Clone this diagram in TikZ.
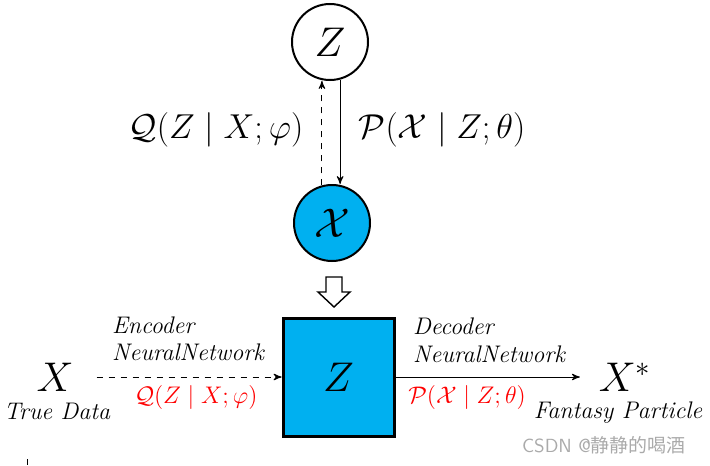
\documentclass[tikz,border=0pt]{standalone}
\usepackage{amsmath}
\usepackage{amssymb}
\usepackage{fontspec}
\newfontfamily\cjk{Noto Sans CJK SC}
\usetikzlibrary{arrows,positioning}

\definecolor{vaeblue}{RGB}{0,176,240}
\definecolor{markgray}{RGB}{170,170,170}

\begin{document}
\begin{tikzpicture}[x=0.5pt,y=-0.5pt,>=stealth',
        latent/.style={circle,draw,line width=1pt,minimum size=38pt,inner sep=0pt,font=\huge},
        codebox/.style={draw,line width=1.5pt,fill=vaeblue,minimum width=55.5pt,minimum height=59pt,font=\huge},
        hand/.style={font=\large\itshape},
        flow/.style={->,line width=0.5pt}]

  \useasboundingbox (0,0) rectangle (710,465);

  % top: graphical model
  \node[latent] (z) at (330,42) {$Z$};
  \node[latent,fill=vaeblue] (x) at (332,223) {$\mathcal{X}$};

  \path (x.105) edge[flow,dashed] (x.105 |- z.south)
        (z.-75) edge[flow] (z.-75 |- x.north);

  \node[font=\LARGE] (qtop) at (216,130) {$\mathcal{Q}(Z\mid X;\varphi)$};
  \node[font=\LARGE] (ptop) at (442,130) {$\mathcal{P}(\mathcal{X}\mid Z;\theta)$};

  % hollow arrow
  \draw[fill=white,line width=0.7pt] (326,277) -- (342,277) -- (342,292) -- (350,292)
        -- (334,307) -- (318,292) -- (326,292) -- cycle;

  % bottom: encoder / decoder
  \node[codebox] (zbox) at (338.5,377) {$Z$};
  \node[font=\huge] (xin) at (55,377) {$X$};
  \node[hand] (truedata) at (57,411) {True Data};
  \node[font=\huge] (xout) at (625,377) {$X^{*}$};
  \node[hand] (fantasy) at (618,413) {Fantasy Particle};

  \path (xin) edge[flow,dashed,shorten <=8pt] (zbox)
        (zbox) edge[flow,shorten >=6pt] (xout);

  \node[hand,anchor=west] (enc) at (105,325) {Encoder};
  \node[hand,anchor=west] (encnet) at (105,352) {NeuralNetwork};
  \node[font=\large,text=red] (qlow) at (196,397) {$\mathcal{Q}(Z\mid X;\varphi)$};

  \node[hand,anchor=west] (dec) at (406,326) {Decoder};
  \node[hand,anchor=west] (decnet) at (406,354) {NeuralNetwork};
  \node[font=\large,text=red] (plow) at (467,397) {$\mathcal{P}(\mathcal{X}\mid Z;\theta)$};

  \node[anchor=east,text=markgray,font=\fontsize{9.5}{11}\selectfont\sffamily] (mark) at (693,445) {CSDN @{\cjk 静静的喝酒}};
  \draw[line width=0.5pt] (27,459) -- (27,465);

\end{tikzpicture}
\end{document}
